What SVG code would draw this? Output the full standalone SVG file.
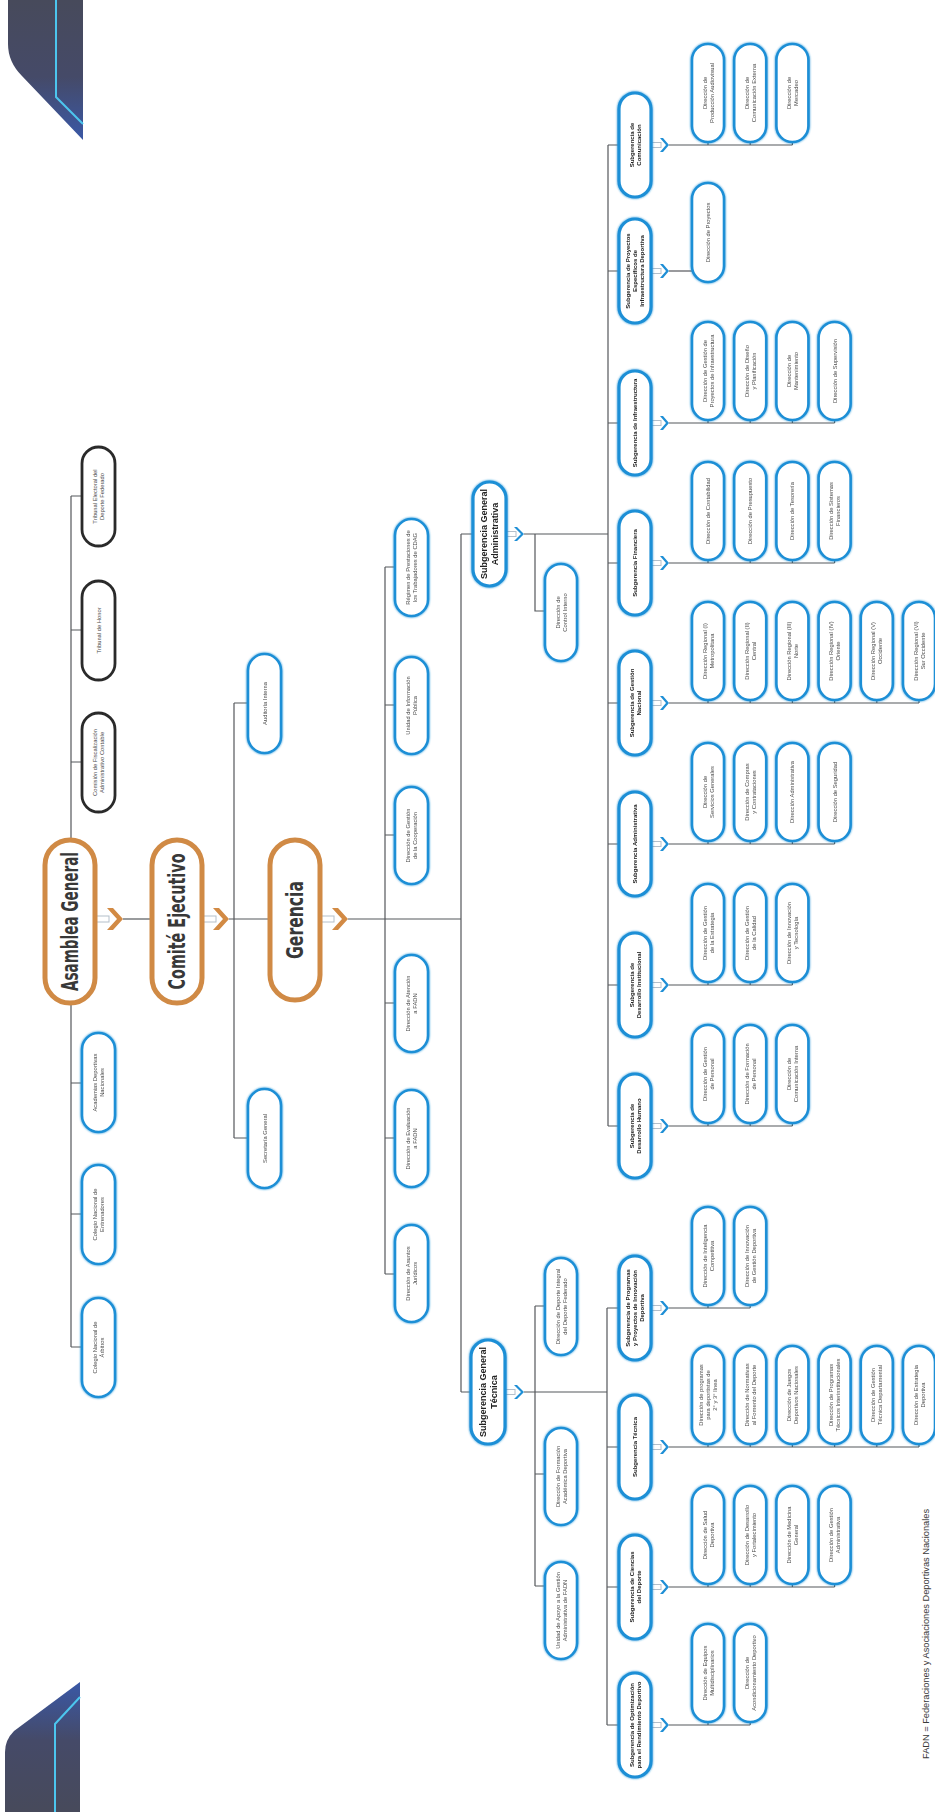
<svg xmlns="http://www.w3.org/2000/svg" width="935" height="1812" viewBox="0 0 935 1812">
<defs>
<style>
.bg{fill:#ffffff}
.ln{fill:none;stroke:#55585c;stroke-width:1.2}
.n{fill:#fff;stroke:#1f8fd6;stroke-width:2.6}
.sg{fill:#fff;stroke:#1f8fd6;stroke-width:3.2}
.k{fill:#fff;stroke:#2a2a2a;stroke-width:2.8}
.o{fill:#fff;stroke:#d08a45;stroke-width:5}
.t{font-family:"Liberation Sans","Open Sans",sans-serif;font-size:5.8px;fill:#4a4a4a;text-anchor:middle}
.tb{font-family:"Liberation Sans","Open Sans",sans-serif;font-size:6px;font-weight:bold;fill:#222;text-anchor:middle}
.tm{font-family:"Liberation Sans","Open Sans",sans-serif;font-size:9px;font-weight:bold;fill:#222;text-anchor:middle}
.tx{font-family:"Liberation Sans Narrow","DejaVu Sans Condensed","Liberation Sans",sans-serif;font-size:23px;font-weight:bold;fill:#383838;text-anchor:middle}
.shaft{fill:#fff;stroke:#b4bfca;stroke-width:1}
.cho{fill:#d28a44}
.chb{fill:#1f8fd6}
.ft{font-family:"Liberation Sans","Open Sans",sans-serif;font-size:9.5px;fill:#3a3a3a}
</style>
<linearGradient id="dg" x1="0" y1="0" x2="0" y2="1">
<stop offset="0" stop-color="#474a5b"/><stop offset="0.55" stop-color="#454a68"/><stop offset="1" stop-color="#3a58a6"/>
</linearGradient>
<linearGradient id="dg2" x1="0" y1="1" x2="0" y2="0">
<stop offset="0" stop-color="#474a5b"/><stop offset="0.55" stop-color="#454a68"/><stop offset="1" stop-color="#3a58a6"/>
</linearGradient>
<filter id="glow" x="-30%" y="-10%" width="160%" height="120%">
<feGaussianBlur in="SourceGraphic" stdDeviation="1.1" result="b"/>
<feMerge><feMergeNode in="b"/><feMergeNode in="SourceGraphic"/></feMerge>
</filter>
</defs>
<rect class="bg" x="0" y="0" width="935" height="1812"/>

<g id="decor">
<path d="M8,0 H83 V140 L22,76 Q8,62 8,44 Z" fill="url(#dg)"/>
<path d="M56,0 V97 L83,124" fill="none" stroke="#4cc6ee" stroke-width="2"/>
<path d="M80,1682 V1812 H5 V1752 Q5,1740 14,1731 Z" fill="url(#dg2)"/>
<path d="M80,1697 L55,1724 V1812" fill="none" stroke="#4cc6ee" stroke-width="2"/>
<text class="ft" transform="translate(929,1759) rotate(-90)" textLength="250" lengthAdjust="spacingAndGlyphs">FADN =  Federaciones y Asociaciones Deportivas Nacionales</text>
</g>

<g id="connectors">
<path class="ln" d="M71,496 V840 M71,496 H82 M71,630 H82 M71,762 H82"/>
<path class="ln" d="M71,1003 V1347 M71,1083 H82 M71,1214 H82 M71,1347 H82"/>
<rect class="shaft" x="95" y="916" width="14" height="6"/>
<path class="cho" d="M107,908 h6 l10,11 l-10,11 h-6 l10,-11 z"/>
<path class="ln" d="M123,919 H152"/>
<rect class="shaft" x="202" y="916" width="14" height="6"/>
<path class="cho" d="M213,908 h6 l10,11 l-10,11 h-6 l10,-11 z"/>
<path class="ln" d="M229,919 H270"/>
<path class="ln" d="M234,703 V1138 M234,703 H248 M234,1138 H248"/>
<rect class="shaft" x="320" y="916" width="14" height="6"/>
<path class="cho" d="M332,908 h6 l10,11 l-10,11 h-6 l10,-11 z"/>
<path class="ln" d="M348,919 H461"/>
<path class="ln" d="M385,567 V1274 M385,567 H395 M385,705 H395 M385,835 H395 M385,1003 H395 M385,1138 H395 M385,1274 H395"/>
<path class="ln" d="M461,534 V1392 M461,534 H474 M461,1392 H472"/>
<rect class="shaft" x="506" y="531.5" width="10" height="5"/>
<path class="chb" d="M514,527 h3 l7,7 l-7,7 h-3 l7,-7 z"/>
<path class="ln" d="M524,534 H608 M535,534 V611 H545"/>
<path class="ln" d="M608,145 V1126 M608,145 H619 M608,271 H619 M608,423 H619 M608,563 H619 M608,703 H619 M608,844 H619 M608,985 H619 M608,1126 H619"/>
<rect class="shaft" x="505" y="1389.5" width="10" height="5"/>
<path class="chb" d="M514,1385 h3 l7,7 l-7,7 h-3 l7,-7 z"/>
<path class="ln" d="M524,1392 H607"/>
<path class="ln" d="M535,1306 V1586 M535,1306 H545 M535,1474 H545 M535,1586 H545"/>
<path class="ln" d="M607,1308 V1725 M607,1308 H619 M607,1447 H619 M607,1587 H619 M607,1725 H619"/>
<g id="sub-arrows">
<rect class="shaft" x="651" y="142.5" width="10" height="5"/><path class="chb" d="M660,138 h3 l6,7 l-6,7 h-3 l6,-7 z"/>
<rect class="shaft" x="651" y="268.5" width="10" height="5"/><path class="chb" d="M660,264 h3 l6,7 l-6,7 h-3 l6,-7 z"/>
<rect class="shaft" x="651" y="420.5" width="10" height="5"/><path class="chb" d="M660,416 h3 l6,7 l-6,7 h-3 l6,-7 z"/>
<rect class="shaft" x="651" y="560.5" width="10" height="5"/><path class="chb" d="M660,556 h3 l6,7 l-6,7 h-3 l6,-7 z"/>
<rect class="shaft" x="651" y="700.5" width="10" height="5"/><path class="chb" d="M660,696 h3 l6,7 l-6,7 h-3 l6,-7 z"/>
<rect class="shaft" x="651" y="841.5" width="10" height="5"/><path class="chb" d="M660,837 h3 l6,7 l-6,7 h-3 l6,-7 z"/>
<rect class="shaft" x="651" y="982.5" width="10" height="5"/><path class="chb" d="M660,978 h3 l6,7 l-6,7 h-3 l6,-7 z"/>
<rect class="shaft" x="651" y="1123.5" width="10" height="5"/><path class="chb" d="M660,1119 h3 l6,7 l-6,7 h-3 l6,-7 z"/>
<rect class="shaft" x="651" y="1305.5" width="10" height="5"/><path class="chb" d="M660,1301 h3 l6,7 l-6,7 h-3 l6,-7 z"/>
<rect class="shaft" x="651" y="1444.5" width="10" height="5"/><path class="chb" d="M660,1440 h3 l6,7 l-6,7 h-3 l6,-7 z"/>
<rect class="shaft" x="651" y="1584.5" width="10" height="5"/><path class="chb" d="M660,1580 h3 l6,7 l-6,7 h-3 l6,-7 z"/>
<rect class="shaft" x="651" y="1722.5" width="10" height="5"/><path class="chb" d="M660,1718 h3 l6,7 l-6,7 h-3 l6,-7 z"/>
</g>
<path class="ln" d="M669,145 H792.4 M708,142 V145 M750.2,142 V145 M792.4,142 V145"/>
<path class="ln" d="M669,271 H692"/>
<path class="ln" d="M669,423 H834.6 M708,420 V423 M750.2,420 V423 M792.4,420 V423 M834.6,420 V423"/>
<path class="ln" d="M669,563 H834.6 M708,560 V563 M750.2,560 V563 M792.4,560 V563 M834.6,560 V563"/>
<path class="ln" d="M669,703 H919 M708,700 V703 M750.2,700 V703 M792.4,700 V703 M834.6,700 V703 M876.8,700 V703 M919,700 V703"/>
<path class="ln" d="M669,844 H834.6 M708,841 V844 M750.2,841 V844 M792.4,841 V844 M834.6,841 V844"/>
<path class="ln" d="M669,985 H792.4 M708,982 V985 M750.2,982 V985 M792.4,982 V985"/>
<path class="ln" d="M669,1126 H792.4 M708,1123 V1126 M750.2,1123 V1126 M792.4,1123 V1126"/>
<path class="ln" d="M669,1308 H750.2 M708,1305 V1308 M750.2,1305 V1308"/>
<path class="ln" d="M669,1447 H919 M708,1444 V1447 M750.2,1444 V1447 M792.4,1444 V1447 M834.6,1444 V1447 M876.8,1444 V1447 M919,1444 V1447"/>
<path class="ln" d="M669,1587 H834.6 M708,1584 V1587 M750.2,1584 V1587 M792.4,1584 V1587 M834.6,1584 V1587"/>
<path class="ln" d="M669,1725 H750.2 M708,1722 V1725 M750.2,1722 V1725"/>
</g>

<g id="asamblea"><rect class="o" x="45" y="840" width="50" height="163" rx="25"/><text class="tx" transform="translate(70,921.5) rotate(-90)" y="7.7" textLength="139" lengthAdjust="spacingAndGlyphs">Asamblea General</text></g>
<g id="comite"><rect class="o" x="152" y="840" width="50" height="163" rx="25"/><text class="tx" transform="translate(177,921.5) rotate(-90)" y="7.7" textLength="136" lengthAdjust="spacingAndGlyphs">Comité Ejecutivo</text></g>
<g id="gerencia"><rect class="o" x="270" y="840" width="50" height="160" rx="25"/><text class="tx" transform="translate(295,920) rotate(-90)" y="7.7" textLength="78" lengthAdjust="spacingAndGlyphs">Gerencia</text></g>

<g id="tribunal-electoral"><rect class="k" x="82" y="447" width="33" height="99" rx="16.5"/><text class="t" transform="translate(98.5,496.5) rotate(-90)"><tspan x="0" y="-1.5">Tribunal Electoral del</tspan><tspan x="0" y="5.5">Deporte Federado</tspan></text></g>
<g id="tribunal-honor"><rect class="k" x="82" y="581" width="33" height="99" rx="16.5"/><text class="t" transform="translate(98.5,630.5) rotate(-90)" y="2">Tribunal de Honor</text></g>
<g id="comision"><rect class="k" x="82" y="713" width="33" height="99" rx="16.5"/><text class="t" transform="translate(98.5,762.5) rotate(-90)"><tspan x="0" y="-1.5">Comisión de Fiscalización</tspan><tspan x="0" y="5.5">Administrativo Contable</tspan></text></g>

<g id="academias" filter="url(#glow)"><rect class="n" x="82" y="1033" width="33" height="99" rx="16.5"/><text class="t" transform="translate(98.5,1082.5) rotate(-90)"><tspan x="0" y="-1.5">Academias Deportivas</tspan><tspan x="0" y="5.5">Nacionales</tspan></text></g>
<g id="entrenadores" filter="url(#glow)"><rect class="n" x="82" y="1165" width="33" height="99" rx="16.5"/><text class="t" transform="translate(98.5,1214.5) rotate(-90)"><tspan x="0" y="-1.5">Colegio Nacional de</tspan><tspan x="0" y="5.5">Entrenadores</tspan></text></g>
<g id="arbitros" filter="url(#glow)"><rect class="n" x="82" y="1298" width="33" height="99" rx="16.5"/><text class="t" transform="translate(98.5,1347.5) rotate(-90)"><tspan x="0" y="-1.5">Colegio Nacional de</tspan><tspan x="0" y="5.5">Árbitros</tspan></text></g>

<g id="auditoria" filter="url(#glow)"><rect class="n" x="248" y="654" width="33" height="99" rx="16.5"/><text class="t" transform="translate(264.5,703.5) rotate(-90)" y="2">Auditoría Interna</text></g>
<g id="secretaria" filter="url(#glow)"><rect class="n" x="248" y="1089" width="33" height="99" rx="16.5"/><text class="t" transform="translate(264.5,1138.5) rotate(-90)" y="2">Secretaría General</text></g>

<g id="regimen" filter="url(#glow)"><rect class="n" x="395" y="519" width="33" height="97" rx="16.5"/><text class="t" transform="translate(411.5,567.5) rotate(-90)"><tspan x="0" y="-1.5">Régimen de Prestaciones de</tspan><tspan x="0" y="5.5">los Trabajadores de CDAG</tspan></text></g>
<g id="info-publica" filter="url(#glow)"><rect class="n" x="395" y="657" width="33" height="97" rx="16.5"/><text class="t" transform="translate(411.5,705.5) rotate(-90)"><tspan x="0" y="-1.5">Unidad de Información</tspan><tspan x="0" y="5.5">Pública</tspan></text></g>
<g id="cooperacion" filter="url(#glow)"><rect class="n" x="395" y="787" width="33" height="97" rx="16.5"/><text class="t" transform="translate(411.5,835.5) rotate(-90)"><tspan x="0" y="-1.5">Dirección de Gestión</tspan><tspan x="0" y="5.5">de la Cooperación</tspan></text></g>
<g id="atencion-fadn" filter="url(#glow)"><rect class="n" x="395" y="955" width="33" height="97" rx="16.5"/><text class="t" transform="translate(411.5,1003.5) rotate(-90)"><tspan x="0" y="-1.5">Dirección de Atención</tspan><tspan x="0" y="5.5">a FADN</tspan></text></g>
<g id="evaluacion-fadn" filter="url(#glow)"><rect class="n" x="395" y="1090" width="33" height="97" rx="16.5"/><text class="t" transform="translate(411.5,1138.5) rotate(-90)"><tspan x="0" y="-1.5">Dirección de Evaluación</tspan><tspan x="0" y="5.5">a FADN</tspan></text></g>
<g id="juridicos" filter="url(#glow)"><rect class="n" x="395" y="1225" width="33" height="97" rx="16.5"/><text class="t" transform="translate(411.5,1273.5) rotate(-90)"><tspan x="0" y="-1.5">Dirección de Asuntos</tspan><tspan x="0" y="5.5">Jurídicos</tspan></text></g>

<g id="sga" filter="url(#glow)"><rect class="sg" x="473" y="482" width="33" height="104" rx="16.5"/><text class="tm" transform="translate(489.5,534) rotate(-90)"><tspan x="0" y="-2.3">Subgerencia General</tspan><tspan x="0" y="8.7">Administrativa</tspan></text></g>
<g id="control-interno" filter="url(#glow)"><rect class="n" x="545" y="564" width="32" height="97" rx="16"/><text class="t" transform="translate(561,612.5) rotate(-90)"><tspan x="0" y="-1.5">Dirección de</tspan><tspan x="0" y="5.5">Control Interno</tspan></text></g>
<g id="sgt" filter="url(#glow)"><rect class="sg" x="471" y="1340" width="34" height="104" rx="17"/><text class="tm" transform="translate(488,1392) rotate(-90)"><tspan x="0" y="-2.3">Subgerencia General</tspan><tspan x="0" y="8.7">Técnica</tspan></text></g>
<g id="deporte-federado" filter="url(#glow)"><rect class="n" x="545" y="1258" width="32" height="97" rx="16"/><text class="t" transform="translate(561,1306.5) rotate(-90)"><tspan x="0" y="-1.5">Dirección de Deporte Integral</tspan><tspan x="0" y="5.5">del Deporte Federado</tspan></text></g>
<g id="formacion-academica" filter="url(#glow)"><rect class="n" x="545" y="1428" width="32" height="97" rx="16"/><text class="t" transform="translate(561,1476.5) rotate(-90)"><tspan x="0" y="-1.5">Dirección de Formación</tspan><tspan x="0" y="5.5">Académica Deportiva</tspan></text></g>
<g id="unidad-apoyo" filter="url(#glow)"><rect class="n" x="545" y="1562" width="32" height="97" rx="16"/><text class="t" transform="translate(561,1610.5) rotate(-90)"><tspan x="0" y="-1.5">Unidad de Apoyo a la Gestión</tspan><tspan x="0" y="5.5">Administrativa de FADN</tspan></text></g>

<g id="s-comunicacion" filter="url(#glow)"><rect class="sg" x="619" y="93" width="32" height="104" rx="16"/><text class="tb" transform="translate(635,145) rotate(-90)"><tspan x="0" y="-1.4">Subgerencia de</tspan><tspan x="0" y="5.6">Comunicación</tspan></text></g>
<g id="s-proyectos" filter="url(#glow)"><rect class="sg" x="619" y="219" width="32" height="104" rx="16"/><text class="tb" transform="translate(635,271) rotate(-90)"><tspan x="0" y="-4.9">Subgerencia de Proyectos</tspan><tspan x="0" y="2.1">Específicos de</tspan><tspan x="0" y="9.1">Infraestructura Deportiva</tspan></text></g>
<g id="s-infraestructura" filter="url(#glow)"><rect class="sg" x="619" y="371" width="32" height="104" rx="16"/><text class="tb" transform="translate(635,423) rotate(-90)" y="2.1">Subgerencia de Infraestructura</text></g>
<g id="s-financiera" filter="url(#glow)"><rect class="sg" x="619" y="511" width="32" height="104" rx="16"/><text class="tb" transform="translate(635,563) rotate(-90)" y="2.1">Subgerencia Financiera</text></g>
<g id="s-gestion-nacional" filter="url(#glow)"><rect class="sg" x="619" y="651" width="32" height="104" rx="16"/><text class="tb" transform="translate(635,703) rotate(-90)"><tspan x="0" y="-1.4">Subgerencia de Gestión</tspan><tspan x="0" y="5.6">Nacional</tspan></text></g>
<g id="s-administrativa" filter="url(#glow)"><rect class="sg" x="619" y="792" width="32" height="104" rx="16"/><text class="tb" transform="translate(635,844) rotate(-90)" y="2.1">Subgerencia Administrativa</text></g>
<g id="s-des-institucional" filter="url(#glow)"><rect class="sg" x="619" y="933" width="32" height="104" rx="16"/><text class="tb" transform="translate(635,985) rotate(-90)"><tspan x="0" y="-1.4">Subgerencia de</tspan><tspan x="0" y="5.6">Desarrollo Institucional</tspan></text></g>
<g id="s-des-humano" filter="url(#glow)"><rect class="sg" x="619" y="1074" width="32" height="104" rx="16"/><text class="tb" transform="translate(635,1126) rotate(-90)"><tspan x="0" y="-1.4">Subgerencia de</tspan><tspan x="0" y="5.6">Desarrollo Humano</tspan></text></g>
<g id="s-innovacion" filter="url(#glow)"><rect class="sg" x="619" y="1256" width="32" height="104" rx="16"/><text class="tb" transform="translate(635,1308) rotate(-90)"><tspan x="0" y="-4.9">Subgerencia de Programas</tspan><tspan x="0" y="2.1">y Proyectos de Innovación</tspan><tspan x="0" y="9.1">Deportiva</tspan></text></g>
<g id="s-tecnica" filter="url(#glow)"><rect class="sg" x="619" y="1395" width="32" height="104" rx="16"/><text class="tb" transform="translate(635,1447) rotate(-90)" y="2.1">Subgerencia Técnica</text></g>
<g id="s-ciencias" filter="url(#glow)"><rect class="sg" x="619" y="1535" width="32" height="104" rx="16"/><text class="tb" transform="translate(635,1587) rotate(-90)"><tspan x="0" y="-1.4">Subgerencia de Ciencias</tspan><tspan x="0" y="5.6">del Deporte</tspan></text></g>
<g id="s-optimizacion" filter="url(#glow)"><rect class="sg" x="619" y="1673" width="32" height="104" rx="16"/><text class="tb" transform="translate(635,1725) rotate(-90)"><tspan x="0" y="-1.4">Subgerencia de Optimización</tspan><tspan x="0" y="5.6">para el Rendimiento Deportivo</tspan></text></g>

<g id="d-audiovisual" filter="url(#glow)"><rect class="n" x="692" y="44" width="32" height="98" rx="16"/><text class="t" transform="translate(708,93) rotate(-90)"><tspan x="0" y="-1.5">Dirección de</tspan><tspan x="0" y="5.5">Producción Audiovisual</tspan></text></g>
<g id="d-com-externa" filter="url(#glow)"><rect class="n" x="734.2" y="44" width="32" height="98" rx="16"/><text class="t" transform="translate(750.2,93) rotate(-90)"><tspan x="0" y="-1.5">Dirección de</tspan><tspan x="0" y="5.5">Comunicación Externa</tspan></text></g>
<g id="d-mercadeo" filter="url(#glow)"><rect class="n" x="776.4" y="44" width="32" height="98" rx="16"/><text class="t" transform="translate(792.4,93) rotate(-90)"><tspan x="0" y="-1.5">Dirección de</tspan><tspan x="0" y="5.5">Mercadeo</tspan></text></g>
<g id="d-proyectos" filter="url(#glow)"><rect class="n" x="692" y="183" width="32" height="99" rx="16"/><text class="t" transform="translate(708,232.5) rotate(-90)" y="2">Dirección de Proyectos</text></g>
<g id="d-gestion-proy" filter="url(#glow)"><rect class="n" x="692" y="322" width="32" height="98" rx="16"/><text class="t" transform="translate(708,371) rotate(-90)"><tspan x="0" y="-1.5">Dirección de Gestión de</tspan><tspan x="0" y="5.5">Proyectos de Infraestructura</tspan></text></g>
<g id="d-diseno" filter="url(#glow)"><rect class="n" x="734.2" y="322" width="32" height="98" rx="16"/><text class="t" transform="translate(750.2,371) rotate(-90)"><tspan x="0" y="-1.5">Dirección de Diseño</tspan><tspan x="0" y="5.5">y Planificación</tspan></text></g>
<g id="d-mantenimiento" filter="url(#glow)"><rect class="n" x="776.4" y="322" width="32" height="98" rx="16"/><text class="t" transform="translate(792.4,371) rotate(-90)"><tspan x="0" y="-1.5">Dirección de</tspan><tspan x="0" y="5.5">Mantenimiento</tspan></text></g>
<g id="d-supervision" filter="url(#glow)"><rect class="n" x="818.6" y="322" width="32" height="98" rx="16"/><text class="t" transform="translate(834.6,371) rotate(-90)" y="2">Dirección de Supervisión</text></g>
<g id="d-contabilidad" filter="url(#glow)"><rect class="n" x="692" y="462" width="32" height="98" rx="16"/><text class="t" transform="translate(708,511) rotate(-90)" y="2">Dirección de Contabilidad</text></g>
<g id="d-presupuesto" filter="url(#glow)"><rect class="n" x="734.2" y="462" width="32" height="98" rx="16"/><text class="t" transform="translate(750.2,511) rotate(-90)" y="2">Dirección de Presupuesto</text></g>
<g id="d-tesoreria" filter="url(#glow)"><rect class="n" x="776.4" y="462" width="32" height="98" rx="16"/><text class="t" transform="translate(792.4,511) rotate(-90)" y="2">Dirección de Tesorería</text></g>
<g id="d-sistemas" filter="url(#glow)"><rect class="n" x="818.6" y="462" width="32" height="98" rx="16"/><text class="t" transform="translate(834.6,511) rotate(-90)"><tspan x="0" y="-1.5">Dirección de Sistemas</tspan><tspan x="0" y="5.5">Financieros</tspan></text></g>
<g id="d-reg1" filter="url(#glow)"><rect class="n" x="692" y="602" width="32" height="98" rx="16"/><text class="t" transform="translate(708,651) rotate(-90)"><tspan x="0" y="-1.5">Dirección Regional (I)</tspan><tspan x="0" y="5.5">Metropolitana</tspan></text></g>
<g id="d-reg2" filter="url(#glow)"><rect class="n" x="734.2" y="602" width="32" height="98" rx="16"/><text class="t" transform="translate(750.2,651) rotate(-90)"><tspan x="0" y="-1.5">Dirección Regional (II)</tspan><tspan x="0" y="5.5">Central</tspan></text></g>
<g id="d-reg3" filter="url(#glow)"><rect class="n" x="776.4" y="602" width="32" height="98" rx="16"/><text class="t" transform="translate(792.4,651) rotate(-90)"><tspan x="0" y="-1.5">Dirección Regional (III)</tspan><tspan x="0" y="5.5">Norte</tspan></text></g>
<g id="d-reg4" filter="url(#glow)"><rect class="n" x="818.6" y="602" width="32" height="98" rx="16"/><text class="t" transform="translate(834.6,651) rotate(-90)"><tspan x="0" y="-1.5">Dirección Regional (IV)</tspan><tspan x="0" y="5.5">Oriente</tspan></text></g>
<g id="d-reg5" filter="url(#glow)"><rect class="n" x="860.8" y="602" width="32" height="98" rx="16"/><text class="t" transform="translate(876.8,651) rotate(-90)"><tspan x="0" y="-1.5">Dirección Regional (V)</tspan><tspan x="0" y="5.5">Occidente</tspan></text></g>
<g id="d-reg6" filter="url(#glow)"><rect class="n" x="903" y="602" width="32" height="98" rx="16"/><text class="t" transform="translate(919,651) rotate(-90)"><tspan x="0" y="-1.5">Dirección Regional (VI)</tspan><tspan x="0" y="5.5">Sur Occidente</tspan></text></g>
<g id="d-servicios" filter="url(#glow)"><rect class="n" x="692" y="743" width="32" height="98" rx="16"/><text class="t" transform="translate(708,792) rotate(-90)"><tspan x="0" y="-1.5">Dirección de</tspan><tspan x="0" y="5.5">Servicios Generales</tspan></text></g>
<g id="d-compras" filter="url(#glow)"><rect class="n" x="734.2" y="743" width="32" height="98" rx="16"/><text class="t" transform="translate(750.2,792) rotate(-90)"><tspan x="0" y="-1.5">Dirección de Compras</tspan><tspan x="0" y="5.5">y Contrataciones</tspan></text></g>
<g id="d-administrativa" filter="url(#glow)"><rect class="n" x="776.4" y="743" width="32" height="98" rx="16"/><text class="t" transform="translate(792.4,792) rotate(-90)" y="2">Dirección Administrativa</text></g>
<g id="d-seguridad" filter="url(#glow)"><rect class="n" x="818.6" y="743" width="32" height="98" rx="16"/><text class="t" transform="translate(834.6,792) rotate(-90)" y="2">Dirección de Seguridad</text></g>
<g id="d-estrategia" filter="url(#glow)"><rect class="n" x="692" y="884" width="32" height="98" rx="16"/><text class="t" transform="translate(708,933) rotate(-90)"><tspan x="0" y="-1.5">Dirección de Gestión</tspan><tspan x="0" y="5.5">de la Estrategia</tspan></text></g>
<g id="d-calidad" filter="url(#glow)"><rect class="n" x="734.2" y="884" width="32" height="98" rx="16"/><text class="t" transform="translate(750.2,933) rotate(-90)"><tspan x="0" y="-1.5">Dirección de Gestión</tspan><tspan x="0" y="5.5">de la Calidad</tspan></text></g>
<g id="d-innovacion-tec" filter="url(#glow)"><rect class="n" x="776.4" y="884" width="32" height="98" rx="16"/><text class="t" transform="translate(792.4,933) rotate(-90)"><tspan x="0" y="-1.5">Dirección de Innovación</tspan><tspan x="0" y="5.5">y Tecnología</tspan></text></g>
<g id="d-gestion-personal" filter="url(#glow)"><rect class="n" x="692" y="1025" width="32" height="98" rx="16"/><text class="t" transform="translate(708,1074) rotate(-90)"><tspan x="0" y="-1.5">Dirección de Gestión</tspan><tspan x="0" y="5.5">de Personal</tspan></text></g>
<g id="d-formacion-personal" filter="url(#glow)"><rect class="n" x="734.2" y="1025" width="32" height="98" rx="16"/><text class="t" transform="translate(750.2,1074) rotate(-90)"><tspan x="0" y="-1.5">Dirección de Formación</tspan><tspan x="0" y="5.5">de Personal</tspan></text></g>
<g id="d-com-interna" filter="url(#glow)"><rect class="n" x="776.4" y="1025" width="32" height="98" rx="16"/><text class="t" transform="translate(792.4,1074) rotate(-90)"><tspan x="0" y="-1.5">Dirección de</tspan><tspan x="0" y="5.5">Comunicación Interna</tspan></text></g>
<g id="d-inteligencia" filter="url(#glow)"><rect class="n" x="692" y="1207" width="32" height="98" rx="16"/><text class="t" transform="translate(708,1256) rotate(-90)"><tspan x="0" y="-1.5">Dirección de Inteligencia</tspan><tspan x="0" y="5.5">Competitiva</tspan></text></g>
<g id="d-innovacion-gestion" filter="url(#glow)"><rect class="n" x="734.2" y="1207" width="32" height="98" rx="16"/><text class="t" transform="translate(750.2,1256) rotate(-90)"><tspan x="0" y="-1.5">Dirección de Innovación</tspan><tspan x="0" y="5.5">de Gestión Deportiva</tspan></text></g>
<g id="d-programas-linea" filter="url(#glow)"><rect class="n" x="692" y="1346" width="32" height="98" rx="16"/><text class="t" transform="translate(708,1395) rotate(-90)"><tspan x="0" y="-5">Dirección de programas</tspan><tspan x="0" y="2">para deportistas de</tspan><tspan x="0" y="9">2° y 3° línea</tspan></text></g>
<g id="d-normativa" filter="url(#glow)"><rect class="n" x="734.2" y="1346" width="32" height="98" rx="16"/><text class="t" transform="translate(750.2,1395) rotate(-90)"><tspan x="0" y="-1.5">Dirección de Normativas</tspan><tspan x="0" y="5.5">al Fomento del Deporte</tspan></text></g>
<g id="d-juegos" filter="url(#glow)"><rect class="n" x="776.4" y="1346" width="32" height="98" rx="16"/><text class="t" transform="translate(792.4,1395) rotate(-90)"><tspan x="0" y="-1.5">Dirección de Juegos</tspan><tspan x="0" y="5.5">Deportivos Nacionales</tspan></text></g>
<g id="d-prog-tecnicos" filter="url(#glow)"><rect class="n" x="818.6" y="1346" width="32" height="98" rx="16"/><text class="t" transform="translate(834.6,1395) rotate(-90)"><tspan x="0" y="-1.5">Dirección de Programas</tspan><tspan x="0" y="5.5">Técnicos Interinstitucionales</tspan></text></g>
<g id="d-gestion-tecnica" filter="url(#glow)"><rect class="n" x="860.8" y="1346" width="32" height="98" rx="16"/><text class="t" transform="translate(876.8,1395) rotate(-90)"><tspan x="0" y="-1.5">Dirección de Gestión</tspan><tspan x="0" y="5.5">Técnica Departamental</tspan></text></g>
<g id="d-estrategia-dep" filter="url(#glow)"><rect class="n" x="903" y="1346" width="32" height="98" rx="16"/><text class="t" transform="translate(919,1395) rotate(-90)"><tspan x="0" y="-1.5">Dirección de Estrategia</tspan><tspan x="0" y="5.5">Deportiva</tspan></text></g>
<g id="d-salud" filter="url(#glow)"><rect class="n" x="692" y="1486" width="32" height="98" rx="16"/><text class="t" transform="translate(708,1535) rotate(-90)"><tspan x="0" y="-1.5">Dirección de Salud</tspan><tspan x="0" y="5.5">Deportiva</tspan></text></g>
<g id="d-desarrollo" filter="url(#glow)"><rect class="n" x="734.2" y="1486" width="32" height="98" rx="16"/><text class="t" transform="translate(750.2,1535) rotate(-90)"><tspan x="0" y="-1.5">Dirección de Desarrollo</tspan><tspan x="0" y="5.5">y Fortalecimiento</tspan></text></g>
<g id="d-medicina" filter="url(#glow)"><rect class="n" x="776.4" y="1486" width="32" height="98" rx="16"/><text class="t" transform="translate(792.4,1535) rotate(-90)"><tspan x="0" y="-1.5">Dirección de Medicina</tspan><tspan x="0" y="5.5">General</tspan></text></g>
<g id="d-gestion-admin" filter="url(#glow)"><rect class="n" x="818.6" y="1486" width="32" height="98" rx="16"/><text class="t" transform="translate(834.6,1535) rotate(-90)"><tspan x="0" y="-1.5">Dirección de Gestión</tspan><tspan x="0" y="5.5">Administrativa</tspan></text></g>
<g id="d-equipos" filter="url(#glow)"><rect class="n" x="692" y="1624" width="32" height="98" rx="16"/><text class="t" transform="translate(708,1673) rotate(-90)"><tspan x="0" y="-1.5">Dirección de Equipos</tspan><tspan x="0" y="5.5">Multidisciplinarios</tspan></text></g>
<g id="d-acondicionamiento" filter="url(#glow)"><rect class="n" x="734.2" y="1624" width="32" height="98" rx="16"/><text class="t" transform="translate(750.2,1673) rotate(-90)"><tspan x="0" y="-1.5">Dirección de</tspan><tspan x="0" y="5.5">Acondicionamiento Deportivo</tspan></text></g>
</svg>
